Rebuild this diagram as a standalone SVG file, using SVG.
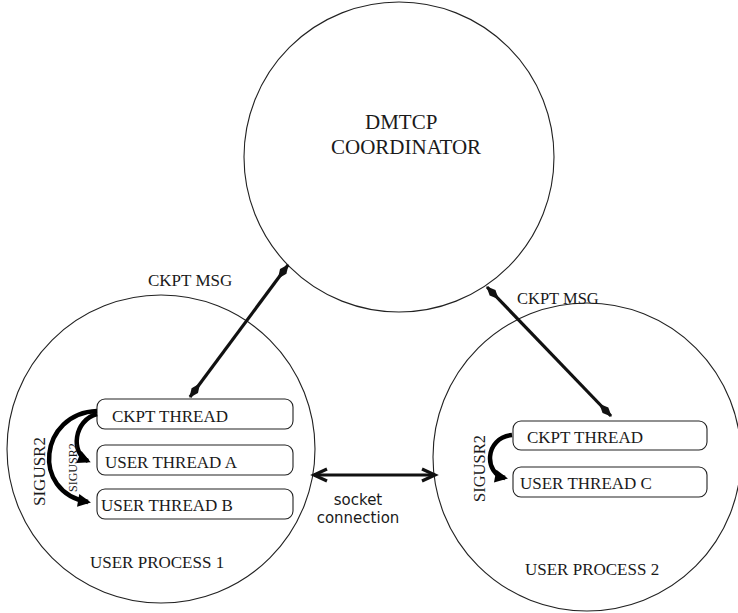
<svg xmlns="http://www.w3.org/2000/svg" width="738" height="613" viewBox="0 0 738 613">
<defs>
<style>
.circ{fill:none;stroke:#222;stroke-width:1.1}
.box{fill:#fff;stroke:#222;stroke-width:1.1}
.t{font-family:"Liberation Serif",serif;fill:#1a1a1a}
.s{font-family:"DejaVu Sans",sans-serif;fill:#1a1a1a}
.msg{fill:none;stroke:#111;stroke-width:3.2}
.sig{fill:none;stroke:#000;stroke-width:4.5}
</style>
<marker id="dia" markerUnits="userSpaceOnUse" markerWidth="30" markerHeight="30" viewBox="-20 -10 30 20" refX="0" refY="0" orient="auto-start-reverse" overflow="visible">
<path d="M1,0 L-8,-4 L-17,0 L-8,4 Z" fill="#111"/>
</marker>
<marker id="chev" markerUnits="userSpaceOnUse" markerWidth="30" markerHeight="30" viewBox="-20 -10 30 20" refX="0" refY="0" orient="auto-start-reverse" overflow="visible">
<path d="M-13,-6 L0,0 L-13,6" fill="none" stroke="#111" stroke-width="3.2"/>
</marker>
<marker id="tri" markerUnits="userSpaceOnUse" markerWidth="30" markerHeight="30" viewBox="-20 -10 30 20" refX="0" refY="0" orient="auto" overflow="visible">
<path d="M3,0 L-10,-6.5 L-10,6.5 Z" fill="#000"/>
</marker>
</defs>
<rect width="738" height="613" fill="#fff"/>

<g id="coordinator">
<circle class="circ" cx="399" cy="157" r="155"/>
<text class="t" x="365" y="129" font-size="21">DMTCP</text>
<text class="t" x="331" y="154" font-size="21">COORDINATOR</text>
</g>

<g id="process1">
<circle class="circ" cx="161" cy="449" r="154"/>
<text class="t" x="90" y="568" font-size="17">USER PROCESS 1</text>
</g>

<g id="process2">
<circle class="circ" cx="587" cy="457" r="154"/>
<text class="t" x="525" y="575" font-size="17">USER PROCESS 2</text>
</g>

<g id="ckpt1">
<rect class="box" x="97" y="399" width="196" height="30" rx="8"/>
<text class="t" x="112" y="422" font-size="17">CKPT THREAD</text>
</g>
<g id="userA">
<rect class="box" x="97" y="445" width="196" height="30" rx="8"/>
<text class="t" x="105" y="468" font-size="17">USER THREAD A</text>
</g>
<g id="userB">
<rect class="box" x="97" y="489" width="196" height="30" rx="8"/>
<text class="t" x="101" y="511" font-size="17">USER THREAD B</text>
</g>
<g id="ckpt2">
<rect class="box" x="513" y="421" width="194" height="29" rx="8"/>
<text class="t" x="527" y="443" font-size="17">CKPT THREAD</text>
</g>
<g id="userC">
<rect class="box" x="513" y="467" width="194" height="30" rx="8"/>
<text class="t" x="520" y="489" font-size="17">USER THREAD C</text>
</g>

<g id="connectors">
<line class="msg" x1="288" y1="265" x2="190" y2="397" marker-start="url(#dia)" marker-end="url(#dia)"/>
<line class="msg" x1="487" y1="287" x2="611" y2="416" marker-start="url(#dia)" marker-end="url(#dia)"/>
<line class="msg" x1="314" y1="475" x2="435" y2="475" marker-start="url(#chev)" marker-end="url(#chev)"/>
<path class="sig" d="M97,411 C40,413 30,492 88,502" marker-end="url(#tri)"/>
<path class="sig" d="M97,414 C74,420 70,453 88,461" marker-end="url(#tri)"/>
<path class="sig" d="M512,435 C484,438 484,474 505,478" marker-end="url(#tri)"/>
<text class="t" x="148" y="286" font-size="17">CKPT MSG</text>
<text class="t" x="517" y="304" font-size="16.5">CKPT MSG</text>
<text class="t" font-size="17" transform="translate(45,506) rotate(-90)">SIGUSR2</text>
<text class="t" font-size="12" transform="translate(77,492) rotate(-90)">SIGUSR2</text>
<text class="t" font-size="16.5" transform="translate(485,502) rotate(-90)">SIGUSR2</text>
<text class="s" x="358" y="505" font-size="15" text-anchor="middle">socket</text>
<text class="s" x="358" y="523" font-size="15" text-anchor="middle">connection</text>
</g>
</svg>
